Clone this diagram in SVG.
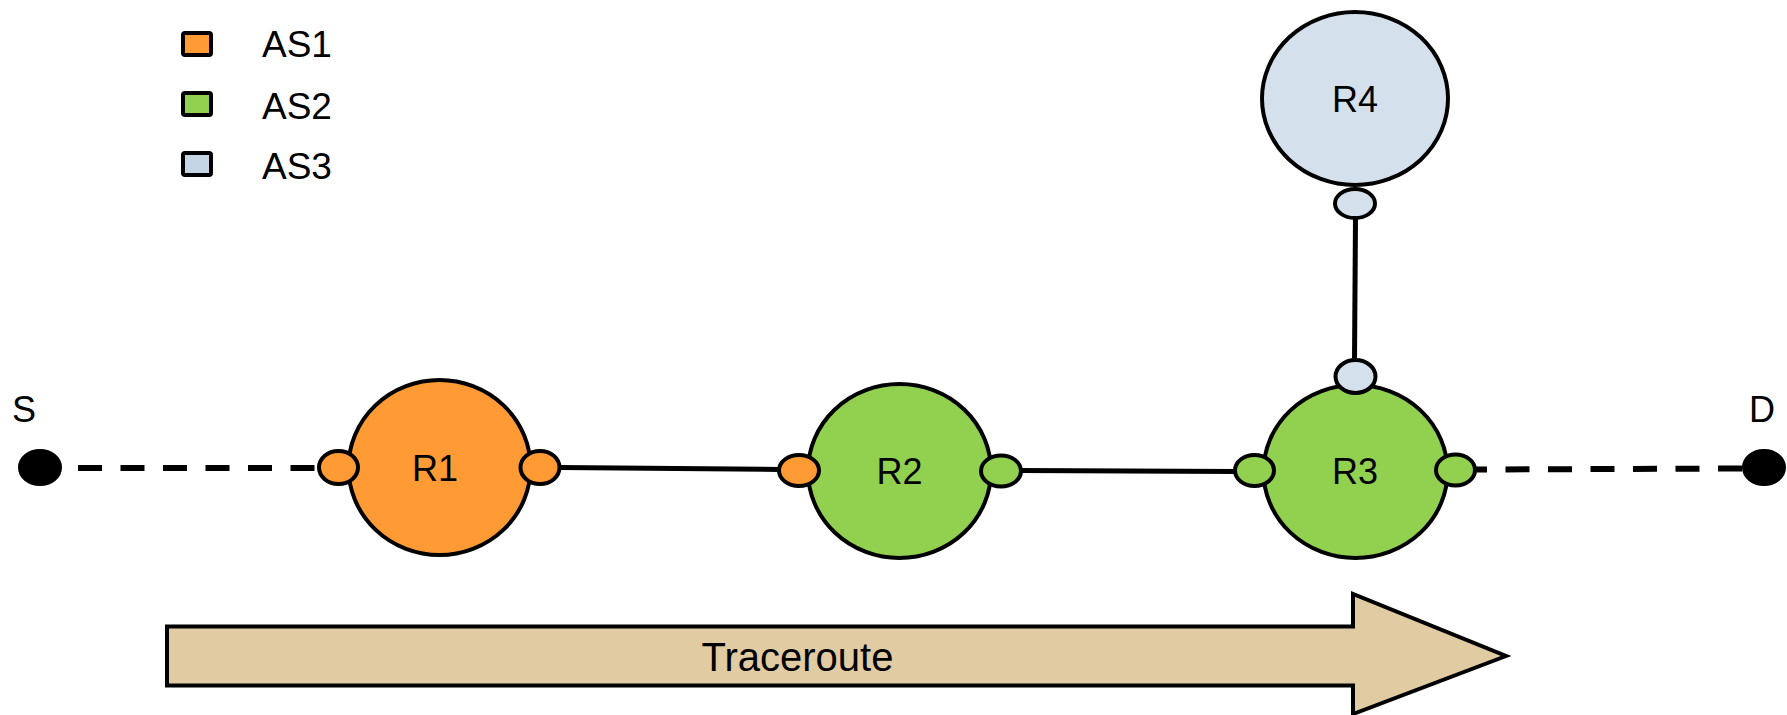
<svg xmlns="http://www.w3.org/2000/svg" width="1787" height="715" viewBox="0 0 1787 715">
<style>
.bd{stroke:#000;stroke-width:4}
.o{fill:#FF9A35}
.g{fill:#92D050}
.b{fill:#D4E1ED}
.lb{fill:#C4D6E6}
.lbl{font-family:"Liberation Sans",Arial,sans-serif;font-size:36px;fill:#000;text-anchor:middle}
.leg{font-family:"Liberation Sans",Arial,sans-serif;font-size:37px;fill:#000}
.solid{stroke:#000;stroke-width:5;fill:none}
.dash{stroke:#000;stroke-width:6;fill:none;stroke-dasharray:24 18.5}
</style>
<rect width="1787" height="715" fill="#fff"/>
<g id="legend">
<rect x="183" y="33" width="28" height="22" rx="2" class="bd o"/>
<text x="262" y="57" class="leg">AS1</text>
<rect x="183" y="93" width="28" height="22" rx="2" class="bd g"/>
<text x="262" y="119" class="leg">AS2</text>
<rect x="183" y="153" width="28" height="22" rx="2" class="bd lb"/>
<text x="262" y="179" class="leg">AS3</text>
</g>
<g id="connectors">
<line x1="78" y1="468" x2="318" y2="468" class="dash"/>
<line x1="560" y1="467.5" x2="780" y2="469.5" class="solid"/>
<line x1="1020" y1="470.5" x2="1236" y2="471.5" class="solid"/>
<line x1="1742" y1="468.5" x2="1476" y2="469.5" class="dash"/>
<line x1="1355.5" y1="218" x2="1354.5" y2="360" class="solid"/>
</g>
<g id="S">
<text x="24" y="422" class="lbl">S</text>
<ellipse cx="40" cy="467.5" rx="21" ry="17.5" fill="#000" stroke="#000" stroke-width="2"/>
</g>
<g id="D">
<text x="1762" y="422" class="lbl">D</text>
<ellipse cx="1764" cy="467.5" rx="21" ry="17.5" fill="#000" stroke="#000" stroke-width="2"/>
</g>
<g id="R1">
<ellipse cx="439.5" cy="467.5" rx="91" ry="87.5" class="bd o"/>
<ellipse cx="338.5" cy="467.5" rx="19.5" ry="16.5" class="bd o"/>
<ellipse cx="540" cy="467.5" rx="19.5" ry="16.5" class="bd o"/>
<text x="435" y="481" class="lbl">R1</text>
</g>
<g id="R2">
<ellipse cx="899.5" cy="471" rx="91.5" ry="87" class="bd g"/>
<ellipse cx="799" cy="470.5" rx="20" ry="15.5" class="bd o"/>
<ellipse cx="1001" cy="471" rx="20" ry="15.5" class="bd g"/>
<text x="899.5" y="484" class="lbl">R2</text>
</g>
<g id="R3">
<ellipse cx="1355.5" cy="471.5" rx="92" ry="86.5" class="bd g"/>
<ellipse cx="1254.5" cy="470.5" rx="19.5" ry="15.5" class="bd g"/>
<ellipse cx="1455.5" cy="470" rx="19.5" ry="15.5" class="bd g"/>
<ellipse cx="1355.5" cy="376.5" rx="20" ry="16.5" class="bd b"/>
<text x="1355" y="484" class="lbl">R3</text>
</g>
<g id="R4">
<ellipse cx="1355" cy="98.5" rx="93" ry="86.5" class="bd b"/>
<ellipse cx="1355" cy="203.5" rx="20" ry="14.5" class="bd b"/>
<text x="1355" y="112" class="lbl">R4</text>
</g>
<g id="traceroute">
<polygon points="167,626.5 1353,626.5 1353,594 1506,656 1353,714 1353,685.5 167,685.5" fill="#E1CBA2" stroke="#000" stroke-width="4" stroke-linejoin="miter"/>
<text x="797.5" y="670.5" font-family="Liberation Sans, Arial, sans-serif" font-size="40" text-anchor="middle" fill="#000">Traceroute</text>
</g>
</svg>
